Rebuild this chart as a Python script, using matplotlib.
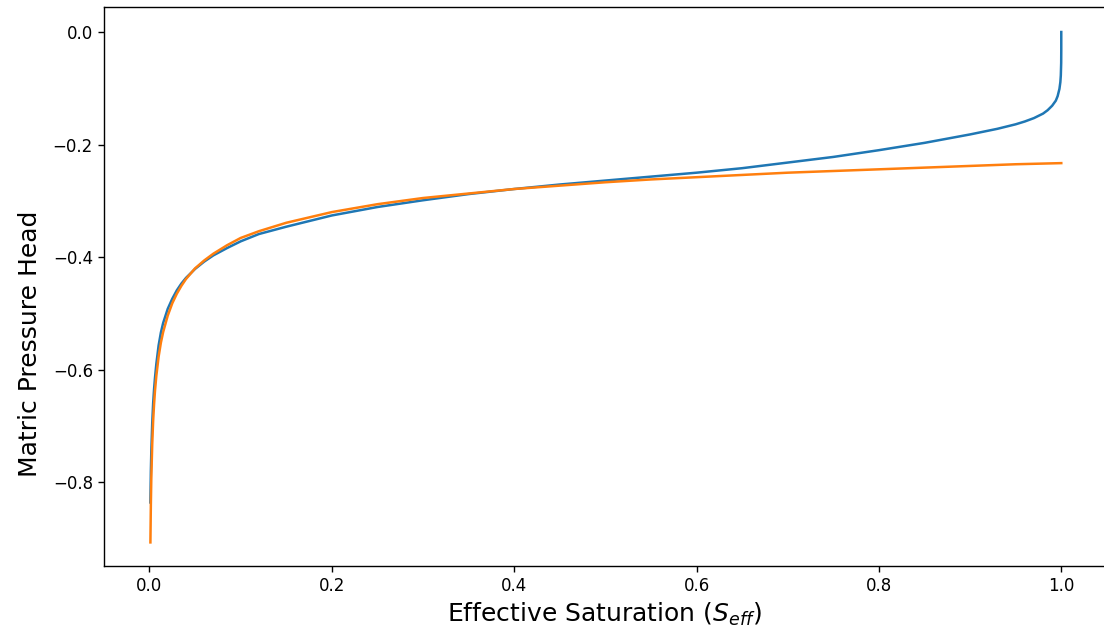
import matplotlib
matplotlib.use("Agg")
import matplotlib.pyplot as plt

# effective saturation and matric head for the two retention curves
s_blue = [0.001, 0.0015, 0.002, 0.003, 0.004, 0.005, 0.006, 0.0075, 0.01,
          0.0125, 0.015, 0.02, 0.025, 0.03, 0.035, 0.04, 0.05, 0.06, 0.07,
          0.085, 0.1, 0.12, 0.15, 0.2, 0.25, 0.3, 0.35, 0.4, 0.45, 0.5, 0.55,
          0.6, 0.65, 0.7, 0.75, 0.8, 0.85, 0.9, 0.93, 0.95, 0.96, 0.97, 0.98,
          0.985, 0.99, 0.994, 0.996, 0.998, 0.999, 0.9995, 0.9999, 0.99999,
          1.0]
h_blue = [-0.836, -0.780, -0.745, -0.695, -0.660, -0.635, -0.615, -0.590,
          -0.557, -0.534, -0.517, -0.492, -0.474, -0.459, -0.447, -0.437,
          -0.421, -0.408, -0.397, -0.384, -0.372, -0.359, -0.346, -0.326,
          -0.311, -0.299, -0.288, -0.279, -0.271, -0.264, -0.257, -0.250,
          -0.242, -0.232, -0.222, -0.210, -0.197, -0.182, -0.172, -0.164,
          -0.159, -0.153, -0.145, -0.139, -0.131, -0.122, -0.114, -0.101,
          -0.089, -0.077, -0.055, -0.033, 0.0]

s_orange = [0.001, 0.0015, 0.002, 0.003, 0.004, 0.005, 0.006, 0.0075, 0.01,
            0.0125, 0.015, 0.02, 0.025, 0.03, 0.035, 0.04, 0.05, 0.06, 0.07,
            0.085, 0.1, 0.12, 0.15, 0.2, 0.25, 0.3, 0.35, 0.4, 0.45, 0.5,
            0.55, 0.6, 0.65, 0.7, 0.75, 0.8, 0.85, 0.9, 0.95, 1.0]
h_orange = [-0.907, -0.839, -0.792, -0.732, -0.691, -0.662, -0.638, -0.611,
            -0.577, -0.552, -0.533, -0.504, -0.482, -0.465, -0.451, -0.439,
            -0.420, -0.406, -0.394, -0.379, -0.366, -0.354, -0.339, -0.320,
            -0.306, -0.295, -0.287, -0.279, -0.273, -0.267, -0.262, -0.258,
            -0.254, -0.250, -0.247, -0.244, -0.241, -0.238, -0.235, -0.233]

fig = plt.figure(figsize=(11.04, 6.33), dpi=100)
ax = fig.add_axes([0.0942, 0.1058, 0.915, 0.8831])

ax.plot(s_blue, h_blue, lw=1.8)
ax.plot(s_orange, h_orange, lw=1.8)

ax.set_xlim(-0.0499, 1.058)
ax.set_ylim(-0.949, 0.0444)
ax.tick_params(labelsize=12, length=4.5, width=1.0)
for sp in ax.spines.values():
    sp.set_linewidth(1.0)

ax.set_xlabel(r'Effective Saturation ($S_{eff}$)', fontsize=18, labelpad=4)
ax.set_ylabel('Matric Pressure Head', fontsize=18, labelpad=8)
ax.xaxis.label.set_x(0.4955)
ax.yaxis.label.set_y(0.397)

fig.savefig('out.png', dpi=100)
